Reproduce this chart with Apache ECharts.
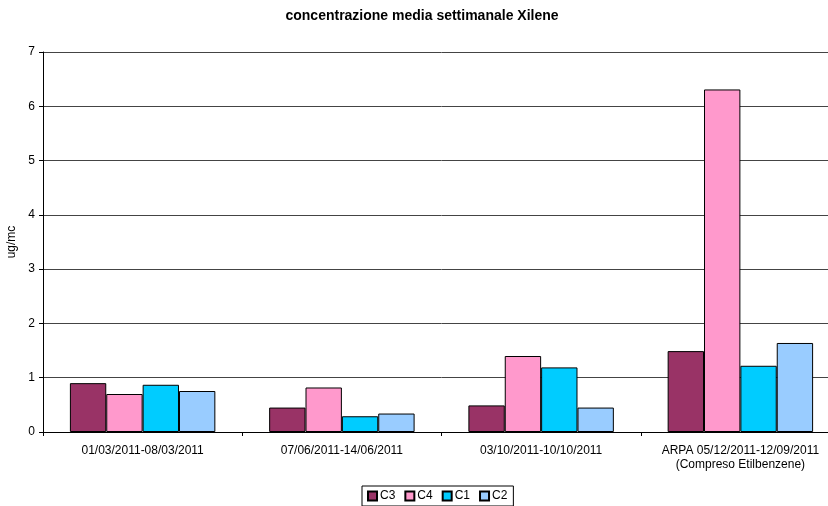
<!DOCTYPE html>
<html><head><meta charset="utf-8">
<script src="https://cdn.jsdelivr.net/npm/echarts@6/dist/echarts.min.js"></script>
<style>html,body{margin:0;padding:0;background:#fff;overflow:hidden;width:828px;height:506px}#c{width:840px;height:506px}</style>
</head><body><div id="c"></div>
<script>
const categories = ['01/03/2011-08/03/2011', '07/06/2011-14/06/2011', '03/10/2011-10/10/2011', 'ARPA 05/12/2011-12/09/2011\n(Compreso Etilbenzene)'];
const seriesNames = ['C3', 'C4', 'C1', 'C2'];
const C3 = [0.90, 0.45, 0.49, 1.49];
const C4 = [0.70, 0.82, 1.40, 6.31];
const C1 = [0.87, 0.29, 1.19, 1.22];
const C2 = [0.755, 0.34, 0.45, 1.64];
const yTicks = [0, 1, 2, 3, 4, 5, 6, 7];
const colors = ['#993366', '#FF99CC', '#00CCFF', '#99CCFF'];
const values = [C3, C4, C1, C2];

const font = 'Liberation Sans, Arial, sans-serif';
const chart = echarts.init(document.getElementById('c'));
chart.setOption({
  animation: false,
  textStyle: {fontFamily: font},
  title: {text: 'concentrazione media settimanale Xilene', left: 417, textAlign: 'center', top: 4,
    textStyle: {fontSize: 14, fontWeight: 'bold', color: '#000', fontFamily: font}},
  legend: {data: seriesNames, left: 362, top: 486, orient: 'horizontal', itemWidth: 9, itemHeight: 9, itemGap: 9,
    borderColor: '#000', borderWidth: 1, padding: [4, 6, 4, 5], icon: 'rect',
    textStyle: {fontSize: 12, color: '#000', fontFamily: font, padding: [0, 0, 0, -2]}},
  grid: {left: 43, right: 0, top: 52, bottom: 74, containLabel: false, outerBoundsMode: 'none'},
  xAxis: {type: 'category', data: categories,
    axisLine: {lineStyle: {color: '#000', width: 1}},
    axisTick: {show: true, length: 4, lineStyle: {color: '#000'}},
    axisLabel: {color: '#000', fontSize: 12, margin: 12, fontFamily: font, lineHeight: 14, interval: 0, hideOverlap: false}},
  yAxis: {type: 'value', min: 0, max: 7, interval: 1, name: 'ug/mc', nameLocation: 'middle', nameGap: 23, nameRotate: 90,
    nameTextStyle: {color: '#000', fontSize: 12, fontFamily: font},
    axisLine: {show: true, lineStyle: {color: '#000'}},
    axisTick: {show: true, length: 4, inside: false, lineStyle: {color: '#000'}},
    axisLabel: {color: '#000', fontSize: 12, margin: 8, fontFamily: font},
    splitLine: {show: true, lineStyle: {color: '#444', width: 1}}},
  series: seriesNames.map((n, i) => ({
    name: n, type: 'bar', data: values[i], barGap: '0%', barCategoryGap: '27%',
    itemStyle: {color: colors[i], borderColor: '#000', borderWidth: 1}
  }))
});
</script></body></html>
